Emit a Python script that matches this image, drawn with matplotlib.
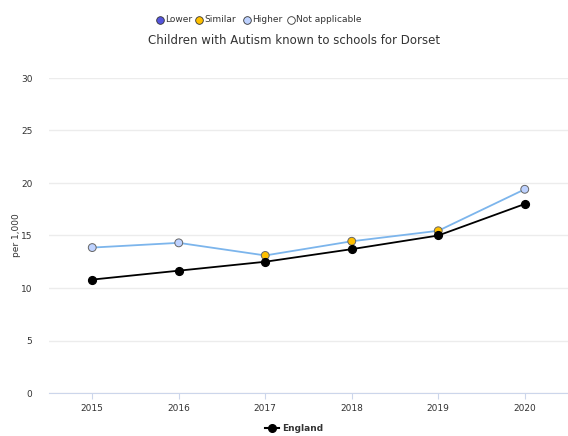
import matplotlib
matplotlib.use("Agg")
import matplotlib.pyplot as plt
from matplotlib.lines import Line2D

# data
years = ["2015", "2016", "2017", "2018", "2019", "2020"]
dorset = [13.85, 14.3, 13.1, 14.45, 15.45, 19.4]
dorset_cmp = ["Higher", "Higher", "Similar", "Similar", "Similar", "Higher"]
england = [10.8, 11.65, 12.5, 13.7, 15.0, 18.0]

cmp_colours = {"Lower": "#5555dd", "Similar": "#ffc000",
               "Higher": "#bed2ff", "Not applicable": "#ffffff"}

W, H = 568, 436
fig = plt.figure(figsize=(W / 100, H / 100), dpi=100)
ax = fig.add_axes([49 / W, (H - 393) / H, (568 - 49) / W, (393 - 78) / H])

x = list(range(len(years)))

ax.plot(x, dorset, color="#7cb5ec", lw=1.3, zorder=3)
ax.scatter(x, dorset, s=32, c=[cmp_colours[c] for c in dorset_cmp],
           edgecolors="#666666", linewidths=0.7, zorder=4)
ax.plot(x, england, color="black", lw=1.3, marker="o", ms=5.6,
        markeredgecolor="black", zorder=5)

ax.set_xlim(-0.5, len(years) - 0.5)
ax.set_ylim(0, 30)
ax.set_yticks(range(0, 31, 5))
ax.set_xticks(x)
ax.set_xticklabels(years)
ax.grid(axis="y", color="#ececec", lw=1)
ax.set_axisbelow(True)
for s in ["top", "right", "left"]:
    ax.spines[s].set_visible(False)
ax.spines["bottom"].set_color("#ccd6eb")
ax.tick_params(axis="y", length=0, labelsize=6.5, colors="#333333", pad=12)
ax.tick_params(axis="x", length=4, color="#ccd6eb", labelsize=6.5,
               colors="#333333", pad=4)
ax.set_ylabel("per 1,000", fontsize=6.5, color="#333333", labelpad=0)
ax.yaxis.set_label_coords(-28 / (568 - 49), 0.5)

fig.text(294 / W, (H - 41) / H, "Children with Autism known to schools for Dorset",
         ha="center", va="center", fontsize=8.5, color="#333333")

# comparison key along the top
key = [("Lower", 160), ("Similar", 199), ("Higher", 247), ("Not applicable", 291)]
for name, px in key:
    fig.add_artist(Line2D([px / W], [(H - 20) / H], marker="o", ms=5.5,
                          markerfacecolor=cmp_colours[name],
                          markeredgecolor="#333333", markeredgewidth=0.6,
                          transform=fig.transFigure))
    fig.text((px + 5) / W, (H - 20) / H, name, ha="left", va="center",
             fontsize=6.5, color="#333333")

# series legend at the bottom
fig.add_artist(Line2D([265 / W, 279 / W], [(H - 428) / H] * 2, color="black",
                      lw=1.5, transform=fig.transFigure))
fig.add_artist(Line2D([272 / W], [(H - 428) / H], marker="o", ms=5.5,
                      color="black", transform=fig.transFigure))
fig.text(282 / W, (H - 428) / H, "England", ha="left", va="center",
         fontsize=6.5, fontweight="bold", color="#333333")

fig.savefig("out.png", dpi=100)
